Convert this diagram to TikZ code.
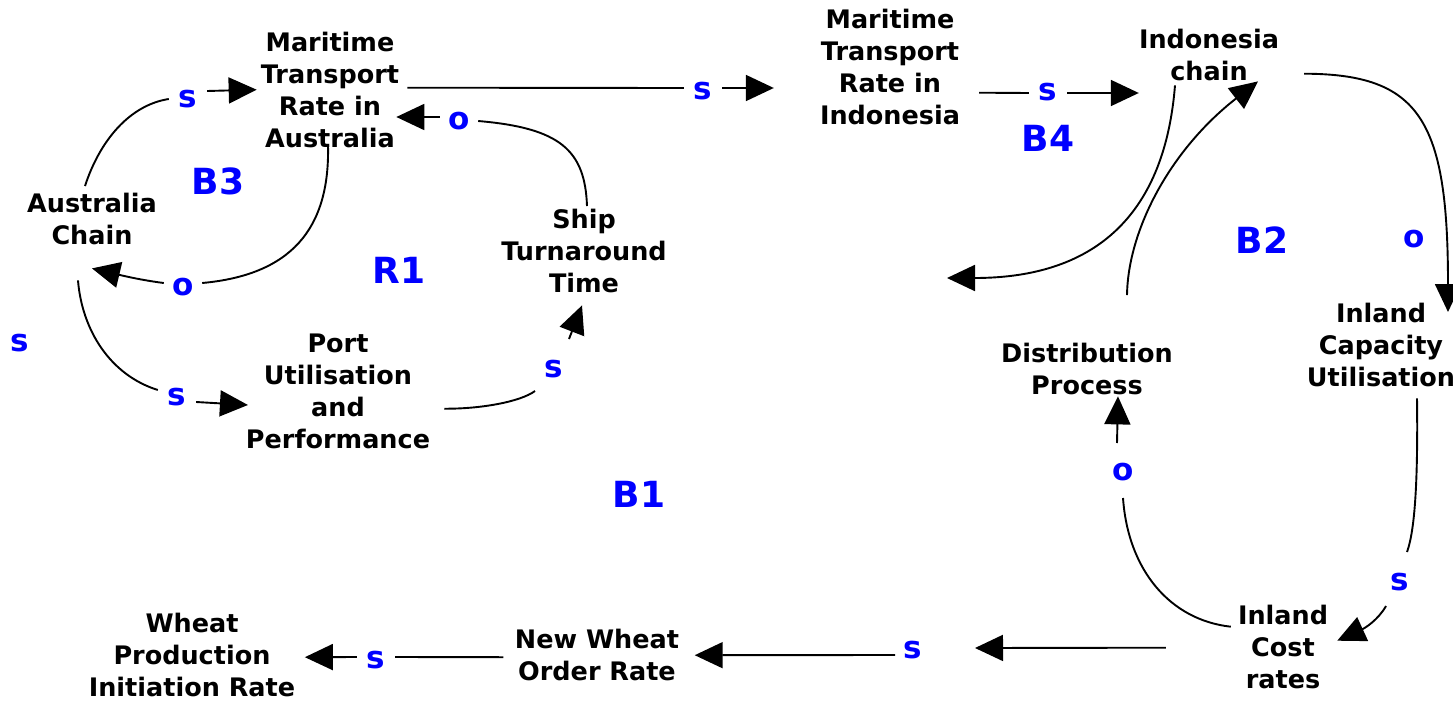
\documentclass[tikz,border=0pt]{standalone}
\usepackage{fontspec}
\setmainfont{DejaVu Sans}
\usetikzlibrary{arrows.meta}
\definecolor{polblue}{RGB}{0,0,255}
\begin{document}
\begin{tikzpicture}[x=1pt,y=-1pt,
  var/.style={font=\fontsize{25.5}{32}\selectfont\bfseries, align=center, inner sep=0pt,
              execute at begin node=\strut, execute at end node=\strut},
  pol/.style={font=\fontsize{31}{31}\selectfont\bfseries, text=polblue, inner sep=0pt,
              minimum width=38pt, text height=17pt, text depth=0pt},
  loopname/.style={font=\fontsize{36}{36}\selectfont\bfseries, text=polblue, inner sep=0pt,
              text height=26pt, text depth=0pt},
  link/.style={draw=black, line width=1.9pt},
  arr/.style={link, -{Triangle[length=28pt,width=26pt]}}]
\useasboundingbox (0,0) rectangle (1453,701);

% variables
\node[var] (MTA)  at (330,94.7)  {Maritime\\Transport\\Rate in\\Australia};
\node[var] (MTI)  at (890,71.7)  {Maritime\\Transport\\Rate in\\Indonesia};
\node[var] (IC)   at (1209,59.7) {Indonesia\\chain};
\node[var] (AC)   at (92,223.7)  {Australia\\Chain};
\node[var] (STT)  at (584,255.7) {Ship\\Turnaround\\Time};
\node[var] (PUP)  at (338,395.7) {Port\\Utilisation\\and\\Performance};
\node[var] (DP)   at (1087,373.7) {Distribution\\Process};
\node[var] (ICU)  at (1381,349.7) {Inland\\Capacity\\Utilisation};
\node[var] (ICR)  at (1283,651.7) {Inland\\Cost\\rates};
\node[var] (NWOR) at (597,659.7) {New Wheat\\Order Rate};
\node[var] (WPIR) at (192,659.7) {Wheat\\Production\\Initiation Rate};

% loop identifiers
\node[loopname] (B3) at (218,181) {B3};
\node[loopname] (R1) at (399,270) {R1};
\node[loopname] (B4) at (1048,138) {B4};
\node[loopname] (B2) at (1262,240) {B2};
\node[loopname] (B1) at (639,494) {B1};

% link polarities
\node[pol] (p1)  at (188,99)   {s};
\node[pol] (p2)  at (183,287)  {o};
\node[pol] (p3)  at (703,91)   {s};
\node[pol] (p4)  at (459,121)  {o};
\node[pol] (p5)  at (177,397)  {s};
\node[pol] (p6)  at (554,369)  {s};
\node[pol] (p7)  at (1048,92)  {s};
\node[pol] (p8)  at (1414,239) {o};
\node[pol] (p9)  at (1400,582) {s};
\node[pol] (p10) at (1123,472) {o};
\node[pol] (p11) at (913,650)  {s};
\node[pol] (p12) at (376,660)  {s};
\node[pol] (p13) at (20,343)   {s};

% Australia chain -> maritime rate (Australia)
\draw[link] (AC.north) ++(-7,-7) .. controls (100,140) and (130,105) .. (p1.west);
\draw[arr] (p1.east) ++(0,-8) -- ([shift={(-4,-5)}]MTA.west);

% maritime rate (Australia) -> Australia chain
\draw[link] (MTA.south) ++(-2,-12) .. controls (330,230) and (290,275) .. ([shift={(0,-4)}]p2.east);
\draw[arr] (p2.west) ++(0,-4) .. controls (140,280) and (120,275) .. ([shift={(0,14)}]AC.south);

% maritime rate (Australia) -> maritime rate (Indonesia)
\draw[link] (MTA.east) ++(8,-7) -- ([shift={(0,-3)}]p3.west);
\draw[arr] (p3.east) ++(0,-3) -- ([shift={(-46,16.3)}]MTI.west);

% ship turnaround -> maritime rate (Australia)
\draw[link] (STT.north) ++(3,-3) .. controls (585,150) and (560,128) .. (p4.east);
\draw[arr] (p4.west) ++(0,-4) -- ([shift={(-3,22.3)}]MTA.east);

% Australia chain -> port utilisation
\draw[link] (AC.south) ++(-14,26) .. controls (82,330) and (110,375) .. ([shift={(0,-7)}]p5.west);
\draw[arr] (p5.east) ++(0,5) -- ([shift={(2.2,9.3)}]PUP.west);

% port utilisation -> ship turnaround
\draw[link] (PUP.east) ++(14,13) .. controls (480,409) and (520,402) .. ([shift={(-19,22)}]p6.center);
\draw[arr] ([shift={(15,-30)}]p6.center) -- ([shift={(-2,3)}]STT.south);

% maritime rate (Indonesia) -> Indonesia chain
\draw[link] (MTI.east) ++(19,21) -- ([shift={(0,1)}]p7.west);
\draw[arr] (p7.east) ++(0,1) -- ([shift={(0,33.3)}]IC.west);

% Indonesia chain -> open end
\coordinate (c8) at (947,278);
\draw[arr] (IC.south) ++(-34,-5) .. controls (1165,210) and (1100,278) .. (c8);

% distribution process -> Indonesia chain
\draw[arr] (DP.north) ++(40,-48) .. controls (1128,230) and (1170,150) .. ([shift={(49,-9)}]IC.south);

% Indonesia chain -> inland capacity utilisation
\draw[arr] (IC.east) ++(25,14) .. controls (1420,74) and (1448,120) .. ([shift={(67,9)}]ICU.north);

% inland capacity utilisation -> inland cost rates
\draw[link] (ICU.south) ++(36,2) .. controls (1418,480) and (1415,530) .. ([shift={(7,-30)}]p9.center);
\draw[arr] ([shift={(-14,24)}]p9.center) .. controls (1378,620) and (1365,628) .. ([shift={(9,-11)}]ICR.east);

% inland cost rates -> distribution process
\draw[link] (ICR.west) ++(-7,-25) .. controls (1170,620) and (1128,570) .. ([shift={(0,26)}]p10.center);
\draw[arr] ([shift={(-6,-29)}]p10.center) -- ([shift={(31,-8)}]DP.south);

% inland cost rates -> new wheat order rate
\draw[arr] (ICR.west) ++(-72,-4) -- ([shift={(62,-2)}]p11.center);
\draw[arr] ([shift={(-18,5)}]p11.center) -- ([shift={(15.5,-4.5)}]NWOR.east);

% new wheat order rate -> wheat production initiation
\draw[link] (NWOR.west) ++(-11.5,-2.5) -- ([shift={(0,-3)}]p12.east);
\draw[arr] (p12.west) ++(0,-3) -- ([shift={(9.5,-2.5)}]WPIR.east);
\end{tikzpicture}
\end{document}
